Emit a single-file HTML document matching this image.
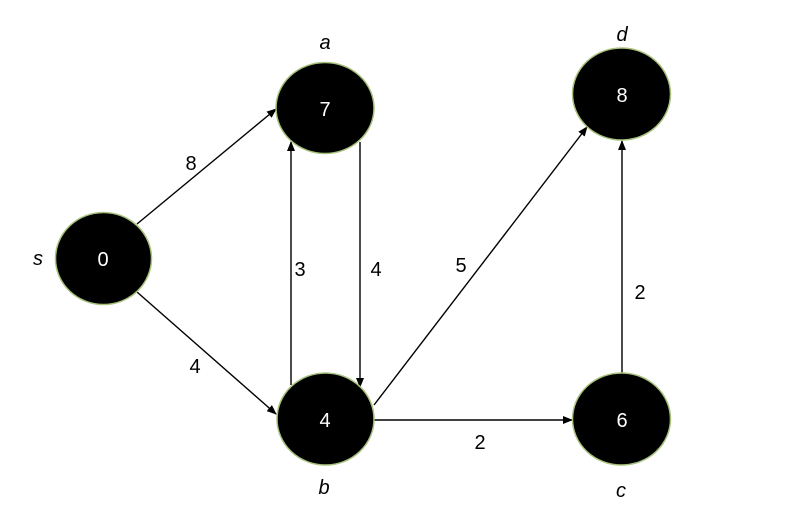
<!DOCTYPE html>
<html><head><meta charset="utf-8"><style>
html,body{margin:0;padding:0;background:#fff;}
svg{display:block;}
text{font-family:"Liberation Sans",sans-serif;}
</style></head><body>
<svg width="810" height="522" viewBox="0 0 810 522" xmlns="http://www.w3.org/2000/svg">
<defs>
<marker id="ah" markerWidth="10" markerHeight="8" refX="9" refY="4" orient="auto" markerUnits="userSpaceOnUse">
<path d="M0,0 L10,4 L0,8 z" fill="#000"/>
</marker>
</defs>
<g stroke="#000" stroke-width="1.4" fill="none" marker-end="url(#ah)">
<line x1="137" y1="224" x2="276" y2="109"/>
<line x1="137" y1="292" x2="276" y2="414"/>
<line x1="291" y1="385" x2="291" y2="142"/>
<line x1="360" y1="142" x2="360" y2="387"/>
<line x1="374" y1="405" x2="587" y2="127"/>
<line x1="374" y1="420" x2="572" y2="420"/>
<line x1="622" y1="373" x2="622" y2="141"/>
</g>
<g fill="#000" stroke="#a9c27e" stroke-width="1.5">
<ellipse cx="103.5" cy="258.5" rx="48" ry="46"/>
<ellipse cx="325" cy="108" rx="49" ry="45.5"/>
<ellipse cx="325.5" cy="419" rx="48.5" ry="46"/>
<ellipse cx="621.5" cy="419" rx="49" ry="46"/>
<ellipse cx="621.5" cy="94" rx="49" ry="46"/>
</g>
<g fill="#fff" font-size="20" text-anchor="middle">
<text x="103" y="266">0</text>
<text x="325" y="116">7</text>
<text x="325" y="427">4</text>
<text x="622" y="427">6</text>
<text x="622" y="102">8</text>
</g>
<g fill="#000" font-size="20" text-anchor="middle">
<text x="191" y="170">8</text>
<text x="195" y="373">4</text>
<text x="300" y="276">3</text>
<text x="376" y="276">4</text>
<text x="461" y="272">5</text>
<text x="480" y="449">2</text>
<text x="640" y="299">2</text>
</g>
<g fill="#000" font-size="20" font-style="italic" text-anchor="middle">
<text x="38" y="265">s</text>
<text x="325" y="49">a</text>
<text x="622" y="41">d</text>
<text x="324" y="494">b</text>
<text x="621" y="497">c</text>
</g>
</svg>
</body></html>
